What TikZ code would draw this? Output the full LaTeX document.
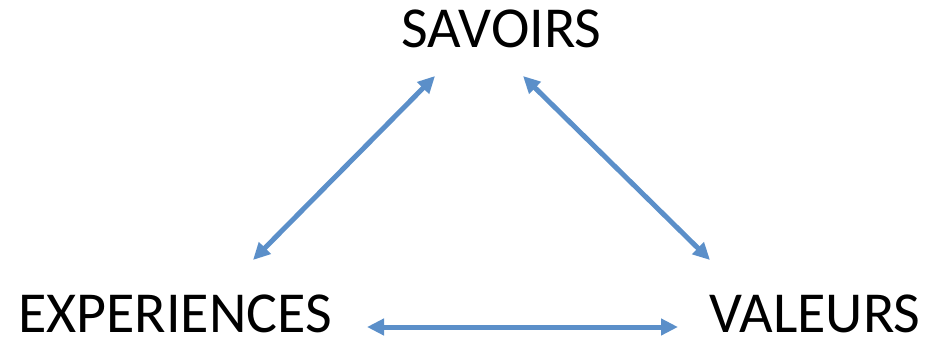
\documentclass[tikz,border=0pt]{standalone}
\usepackage{fontspec}
\setmainfont{Carlito}
\usepackage{tikz}
\usetikzlibrary{arrows.meta,positioning}
\definecolor{lienbleu}{RGB}{91,143,201}

\begin{document}
\begin{tikzpicture}[
		x=0.5pt, y=-0.5pt,
		>={Triangle[length=8.5pt,width=8pt]},
		concept/.style={
			anchor=base,
			inner sep=0pt,
			font=\fontsize{29}{35}\selectfont
		},
		link/.style={
			<->,
			draw=lienbleu,
			line width=2.5pt
		}
		]
		\useasboundingbox (0,0) rectangle (926,338);
		
		% We start by placing the blocks
		\node [concept] (savoirs) at (501.5,47) {SAVOIRS};
		\node [concept] (experiences) at (175,332) {EXPERIENCES};
		\node [concept] (valeurs) at (815,332) {VALEURS};
		
		\draw [link] ([shift={(-66.5,29)}]savoirs.base) -- ([shift={(78,-72)}]experiences.base);
		\draw [link] ([shift={(21.5,29)}]savoirs.base) -- ([shift={(-105,-72)}]valeurs.base);
		\draw [link] ([shift={(192,-5)}]experiences.base) -- ([shift={(-137,-5)}]valeurs.base);
		
\end{tikzpicture}
\end{document}
